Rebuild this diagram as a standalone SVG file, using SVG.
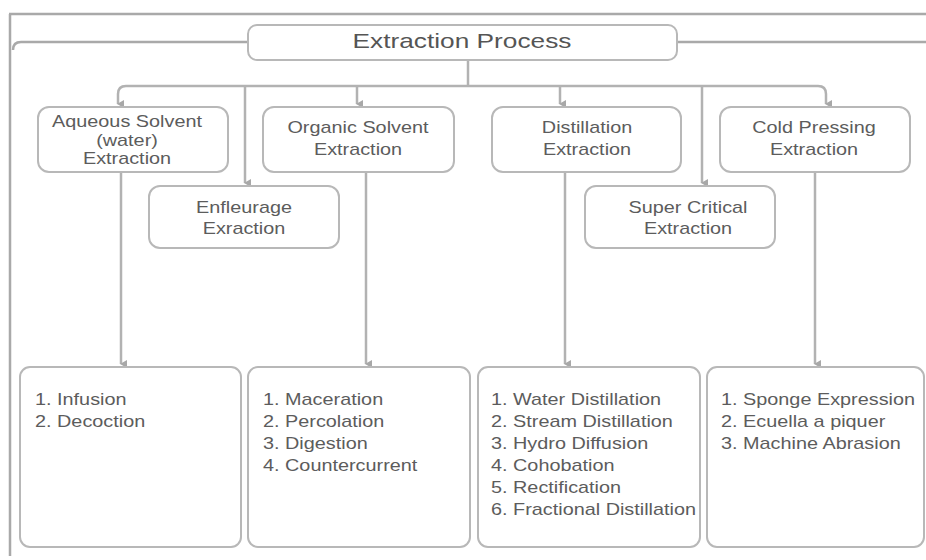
<svg xmlns="http://www.w3.org/2000/svg" width="926" height="560" viewBox="0 0 926 560">
<defs>
<style>
.bg{fill:#fff}
.frame{fill:none;stroke:#a9a9a9;stroke-width:2.5}
.box{fill:#fff;stroke:#b8b8b8;stroke-width:2}
.line{fill:none;stroke:#b2b2b2;stroke-width:2.5}
.t{font-family:"Liberation Sans",Arial,sans-serif;font-size:16px;fill:#5c5c5c}
.c{text-anchor:middle}
.title{font-size:21px;fill:#555}
</style>
<marker id="arr" markerWidth="8" markerHeight="8" refX="4" refY="6" orient="auto" markerUnits="userSpaceOnUse" viewBox="0 0 8 8">
<path d="M0,0 L8,0 L4,7 Z" fill="#a8a8a8"/>
</marker>
</defs>
<rect class="bg" x="0" y="0" width="926" height="560"/>
<g id="frame">
<path class="frame" d="M9,14 H926"/>
<path class="frame" d="M10,14 V556"/>
<path class="frame" d="M13,50 Q13,42 21,42 H248"/>
<path class="frame" d="M677,42 H926"/>
</g>
<g id="connectors">
<path class="line" d="M468,60 V86"/>
<path class="line" d="M126,86 H818"/>
<path class="line" d="M126,86 Q118,86 118,94 V104" marker-end="url(#arr)"/>
<path class="line" d="M818,86 Q826,86 826,94 V104" marker-end="url(#arr)"/>
<path class="line" d="M357,86 V104" marker-end="url(#arr)"/>
<path class="line" d="M560,86 V104" marker-end="url(#arr)"/>
<path class="line" d="M245,86 V183" marker-end="url(#arr)"/>
<path class="line" d="M702,86 V183" marker-end="url(#arr)"/>
<path class="line" d="M121,172 V364" marker-end="url(#arr)"/>
<path class="line" d="M366,172 V364" marker-end="url(#arr)"/>
<path class="line" d="M565,172 V364" marker-end="url(#arr)"/>
<path class="line" d="M815,172 V364" marker-end="url(#arr)"/>
</g>
<g id="title">
<rect class="box" x="248" y="25" width="429" height="35" rx="9"/>
<text class="t c title" transform="matrix(1.25 0 0 1 462 48)">Extraction Process</text>
</g>
<g id="aqueous">
<rect class="box" x="38" y="107" width="190" height="65" rx="11"/>
<text class="t c" transform="matrix(1.24 0 0 1 127 127)">Aqueous Solvent</text>
<text class="t c" transform="matrix(1.24 0 0 1 127 145.5)">(water)</text>
<text class="t c" transform="matrix(1.24 0 0 1 127 164)">Extraction</text>
</g>
<g id="organic">
<rect class="box" x="263" y="107" width="191" height="65" rx="11"/>
<text class="t c" transform="matrix(1.24 0 0 1 358 133)">Organic Solvent</text>
<text class="t c" transform="matrix(1.24 0 0 1 358 155)">Extraction</text>
</g>
<g id="distillation">
<rect class="box" x="492" y="107" width="189" height="65" rx="11"/>
<text class="t c" transform="matrix(1.24 0 0 1 587 133)">Distillation</text>
<text class="t c" transform="matrix(1.24 0 0 1 587 155)">Extraction</text>
</g>
<g id="coldpressing">
<rect class="box" x="720" y="107" width="190" height="65" rx="11"/>
<text class="t c" transform="matrix(1.24 0 0 1 814 133)">Cold Pressing</text>
<text class="t c" transform="matrix(1.24 0 0 1 814 155)">Extraction</text>
</g>
<g id="enfleurage">
<rect class="box" x="149" y="186" width="190" height="62" rx="11"/>
<text class="t c" transform="matrix(1.24 0 0 1 244 213)">Enfleurage</text>
<text class="t c" transform="matrix(1.24 0 0 1 244 234)">Exraction</text>
</g>
<g id="supercritical">
<rect class="box" x="585" y="186" width="190" height="62" rx="11"/>
<text class="t c" transform="matrix(1.24 0 0 1 688 213)">Super Critical</text>
<text class="t c" transform="matrix(1.24 0 0 1 688 234)">Extraction</text>
</g>
<g id="list-aqueous">
<rect class="box" x="20" y="367" width="221" height="180" rx="10"/>
<text class="t" transform="matrix(1.24 0 0 1 35 405)">1. Infusion</text>
<text class="t" transform="matrix(1.24 0 0 1 35 427)">2. Decoction</text>
</g>
<g id="list-organic">
<rect class="box" x="248" y="367" width="222" height="180" rx="10"/>
<text class="t" transform="matrix(1.24 0 0 1 263 405)">1. Maceration</text>
<text class="t" transform="matrix(1.24 0 0 1 263 427)">2. Percolation</text>
<text class="t" transform="matrix(1.24 0 0 1 263 449)">3. Digestion</text>
<text class="t" transform="matrix(1.24 0 0 1 263 471)">4. Countercurrent</text>
</g>
<g id="list-distillation">
<rect class="box" x="478" y="367" width="222" height="180" rx="10"/>
<text class="t" transform="matrix(1.24 0 0 1 491 405)">1. Water Distillation</text>
<text class="t" transform="matrix(1.24 0 0 1 491 427)">2. Stream Distillation</text>
<text class="t" transform="matrix(1.24 0 0 1 491 449)">3. Hydro Diffusion</text>
<text class="t" transform="matrix(1.24 0 0 1 491 471)">4. Cohobation</text>
<text class="t" transform="matrix(1.24 0 0 1 491 493)">5. Rectification</text>
<text class="t" transform="matrix(1.24 0 0 1 491 515)">6. Fractional Distillation</text>
</g>
<g id="list-coldpressing">
<rect class="box" x="707" y="367" width="217" height="180" rx="10"/>
<text class="t" transform="matrix(1.24 0 0 1 721 405)">1. Sponge Expression</text>
<text class="t" transform="matrix(1.24 0 0 1 721 427)">2. Ecuella a piquer</text>
<text class="t" transform="matrix(1.24 0 0 1 721 449)">3. Machine Abrasion</text>
</g>
</svg>
